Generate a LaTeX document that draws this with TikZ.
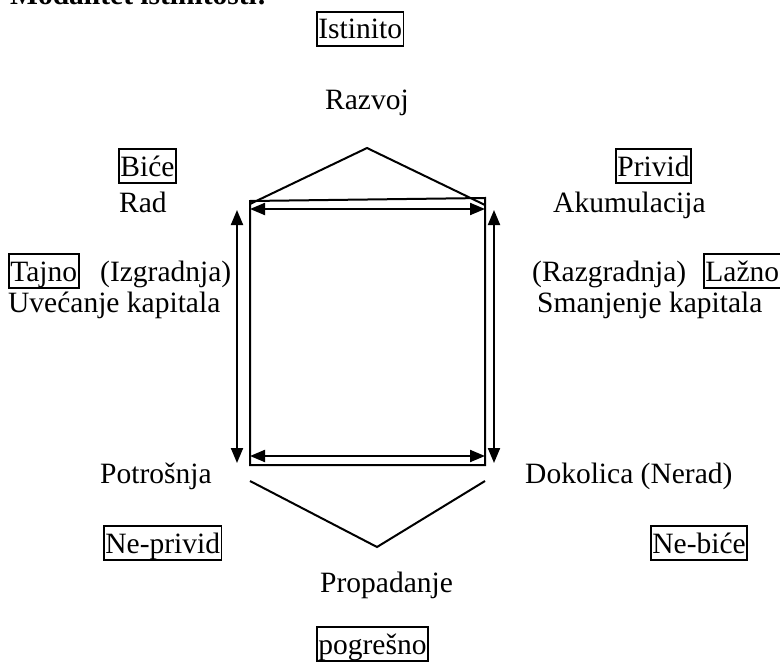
\documentclass[tikz,border=0pt]{standalone}
\usepackage{fontspec}
\setmainfont{Liberation Serif}
\usetikzlibrary{arrows.meta}
\begin{document}
\begin{tikzpicture}[x=1bp,y=-1bp,
  lbl/.style={inner sep=0pt, anchor=base west, font=\fontsize{29.5bp}{34bp}\selectfont},
  framed/.style={lbl, draw, line width=1.8bp, inner xsep=1.5bp, text height=27bp, text depth=7bp},
  edge/.style={line width=2bp},
  dbl/.style={line width=2bp, {Triangle[length=15bp,width=12bp]}-{Triangle[length=15bp,width=12bp]}}
]
\useasboundingbox (0,0) rectangle (780,662);

% heading (runs off the top edge)
\node[lbl] (title) at (10,5) {\bfseries Modalitet istinitosti:};

% labels
\node[framed] (istinito) at (316,39) {Istinito};
\node[lbl, anchor=base] (razvoj) at (367,110) {Razvoj};
\node[framed] (bice) at (118,176) {Biće};
\node[lbl] (rad) at (119,212) {Rad};
\node[framed] (privid) at (615,176) {Privid};
\node[lbl] (akum) at (553,212) {Akumulacija};
\node[framed] (tajno) at (8,281) {Tajno};
\node[lbl] (izg) at (100,281) {(Izgradnja)};
\node[lbl] (uvec) at (8,312) {Uvećanje kapitala};
\node[lbl] (razg) at (532,281) {(Razgradnja)};
\node[framed] (lazno) at (703,281) {Lažno};
\node[lbl] (smanj) at (537,312) {Smanjenje kapitala};
\node[lbl] (potr) at (100,483) {Potrošnja};
\node[lbl] (dokol) at (525,483) {Dokolica (Nerad)};
\node[framed] (neprivid) at (103,553) {Ne-privid};
\node[framed] (nebice) at (650,553) {Ne-biće};
\node[lbl] (propad) at (320,592) {Propadanje};
\node[framed] (pogr) at (316,654) {pogrešno};

% square
\coordinate (sqTL) at (250,201);
\coordinate (sqTR) at (485,198);
\coordinate (sqBR) at (485,465);
\coordinate (sqBL) at (250,465);
\draw[edge] (sqTL) -- (sqTR) -- (sqBR) -- (sqBL) -- cycle;

% roof and inverted roof
\coordinate (roofL) at (250,204);
\coordinate (peak) at (367,148);
\coordinate (roofR) at (485,205);
\draw[edge] (roofL) -- (peak) -- (roofR);
\coordinate (vL) at (250,481);
\coordinate (vlow) at (377,547);
\coordinate (vR) at (485,481);
\draw[edge] (vL) -- (vlow) -- (vR);

% double arrows
\coordinate (aTL) at (250,209);
\coordinate (aTR) at (485,209);
\coordinate (aBL) at (250,456);
\coordinate (aBR) at (485,456);
\coordinate (lT) at (237,210);
\coordinate (lB) at (237,463);
\coordinate (rT) at (494,210);
\coordinate (rB) at (494,463);
\draw[dbl] (aTL) -- (aTR);
\draw[dbl] (aBL) -- (aBR);
\draw[dbl] (lT) -- (lB);
\draw[dbl] (rT) -- (rB);
\end{tikzpicture}
\end{document}
